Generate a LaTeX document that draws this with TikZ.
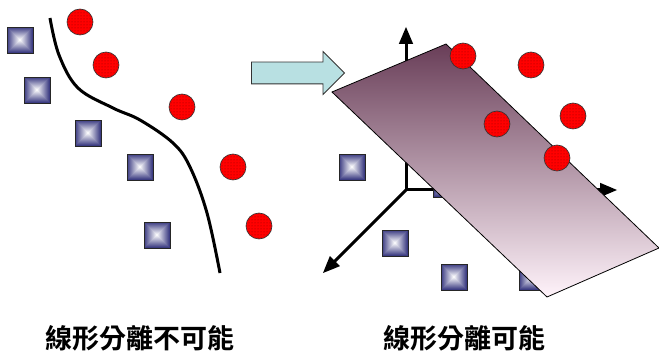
\documentclass[tikz,border=0pt]{standalone}
\usepackage{fontspec}
\newfontfamily\cjk{Noto Sans CJK TC Bold}
\usepackage{tikz}
\usetikzlibrary{arrows,shapes.arrows,patterns,calc}

\definecolor{sqblue}{RGB}{60,60,130}
\definecolor{arrowcyan}{RGB}{184,224,226}
\definecolor{planetop}{RGB}{105,62,88}
\definecolor{planebot}{RGB}{255,243,250}

\tikzset{
  sq/.style={rectangle,draw=black!85,line width=0.8pt,minimum size=26pt,inner sep=0pt,
             fill=sqblue,
             path picture={\foreach \k [evaluate=\k as \p using int(\k*8)] in {1,...,12}
               {\fill[white!\p!sqblue]
                  ($(path picture bounding box.center)+(-13+\k,-13+\k)$) rectangle
                  ($(path picture bounding box.center)+(13-\k,13-\k)$);}}},
  dot/.style={circle,draw=black!80,line width=0.6pt,minimum size=26pt,inner sep=0pt,
              preaction={fill=red},pattern=dots,pattern color=red!55!black},
  label/.style={font=\cjk\fontsize{27}{30}\selectfont,inner sep=0pt}
}

\begin{document}
\begin{tikzpicture}[x=1pt,y=-1pt,>=triangle 45]
    \useasboundingbox (0,0) rectangle (659,358);

    % left: not separable
    \node[sq]  (sqA) at (20,40)   {};
    \node[sq]  (sqB) at (37,90)   {};
    \node[sq]  (sqC) at (88,133)  {};
    \node[sq]  (sqD) at (140,167) {};
    \node[sq]  (sqE) at (157,235) {};

    \node[dot] (dotA) at (80,22)   {};
    \node[dot] (dotB) at (106,65)  {};
    \node[dot] (dotC) at (182,107) {};
    \node[dot] (dotD) at (233,167) {};
    \node[dot] (dotE) at (259,226) {};

    \draw[line width=3pt] plot[smooth,tension=0.6] coordinates
        {(50,18) (59,55) (78,88) (113,108) (140,120) (173,143) (190,167) (207,213) (220,273)};

    % block arrow
    \node[single arrow,draw=black!80,line width=0.8pt,fill=arrowcyan,
          minimum height=93pt,inner xsep=0pt,inner ysep=10.5pt,
          single arrow head extend=10.5pt,single arrow head indent=0pt] (go) at (292.5,73) {};

    % right: separable
    \coordinate (O)  at (406,190);
    \coordinate (zt) at (406,27);
    \coordinate (xt) at (617,190);
    \coordinate (yt) at (323,273);
    \draw[->,line width=3pt] (O) -- (zt);
    \draw[->,line width=3pt] (O) -- (xt);
    \draw[->,line width=3pt] (O) -- (yt);

    \node[sq]  (sqF) at (352,167) {};
    \node[sq]  (sqG) at (446,184) {};
    \node[sq]  (sqH) at (395,243) {};
    \node[sq]  (sqI) at (454,277) {};
    \node[sq]  (sqJ) at (532,277) {};

    \shade[top color=planetop,bottom color=planebot,draw=black,line width=0.8pt]
        (332,92) -- (446,44) -- (659,248) -- (547,297) -- cycle;

    \node[dot] (dotF) at (463,56)  {};
    \node[dot] (dotG) at (531,65)  {};
    \node[dot] (dotH) at (573,116) {};
    \node[dot] (dotI) at (497,124) {};
    \node[dot] (dotJ) at (557,158) {};

    \node[label] (noway) at (140,338) {線形分離不可能};
    \node[label] (okay)  at (464,338) {線形分離可能};
\end{tikzpicture}
\end{document}
